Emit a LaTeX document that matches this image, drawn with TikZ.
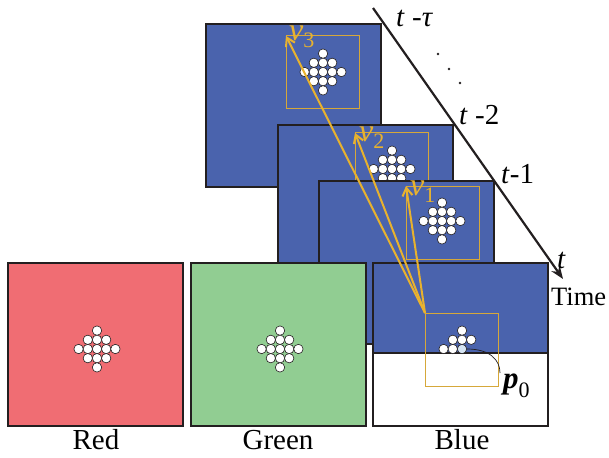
\documentclass[tikz,border=0pt]{standalone}
\usepackage{fontspec}
\setmainfont{Liberation Serif}
\newfontfamily\tnr{Liberation Serif}
\usetikzlibrary{arrows.meta}
\definecolor{fblue}{HTML}{4A63AD}
\definecolor{fred}{HTML}{F06D73}
\definecolor{fgreen}{HTML}{91CD92}
\definecolor{gold}{HTML}{E8B22E}
\definecolor{goldbox}{HTML}{D6A83A}
\definecolor{pblue}{HTML}{D5E4F3}
\definecolor{edge}{HTML}{231F20}
\newcommand\pixdiamond[2]{%
  \foreach \i/\j in {0/-2,-1/-1,0/-1,1/-1,-2/0,-1/0,0/0,1/0,2/0,-1/1,0/1,1/1,0/2}{%
    \draw[dot] ({#1+9.2*\i},{#2+9.2*\j}) circle[radius=4.7pt];}}
\newcommand\sub[1]{\raisebox{-7pt}{\fontsize{22}{22}\selectfont #1}}
\begin{document}
\begin{tikzpicture}[x=1pt,y=-1pt,
 frame/.style={draw=edge, line width=1.5pt, minimum width=175pt, minimum height=163pt, anchor=north west, inner sep=0, outer sep=0},
 wbox/.style={draw=goldbox, line width=1pt, minimum size=73pt, anchor=north west, inner sep=0, outer sep=0},
 mv/.style={draw=gold, line width=2pt, -{Straight Barb[length=8pt,width=10pt]}},
 lbl/.style={font=\tnr\fontsize{29}{29}\selectfont, inner sep=0, anchor=base},
 tl/.style={font=\tnr\fontsize{29}{29}\selectfont, inner sep=0, anchor=base west},
 vl/.style={font=\tnr\fontsize{32}{32}\selectfont, text=gold, inner sep=0, anchor=base west},
 dot/.style={fill=white, draw=edge, line width=0.6pt}]
\useasboundingbox (0,0) rectangle (609,457);
% frame t - tau
\node[frame, fill=fblue] (fT) at (206,24) {};
\node[wbox] (bT) at (286,36) {};
\pixdiamond{323}{72}
% frame t-2
\node[frame, fill=fblue] (f2) at (278,125) {};
\node[wbox] (b2) at (355,133) {};
\pixdiamond{392}{169}
% frame t-1
\node[frame, fill=fblue] (f1) at (319,181) {};
\node[wbox] (b1) at (406,186) {};
\pixdiamond{442}{221}
% Red
\node[frame, fill=fred] (fR) at (8,263) {};
\pixdiamond{97}{349}
% Green
\node[frame, fill=fgreen] (fG) at (191,263) {};
\pixdiamond{280}{349}
% Blue (current frame t)
\node[frame, fill=white] (fB) at (373,263) {};
\node[draw=edge, line width=1.2pt, fill=fblue, minimum width=175pt, minimum height=90pt, anchor=north west, inner sep=0, outer sep=0] (fBr) at (373,263) {};
\node[frame] (fBo) at (373,263) {};
\foreach \i/\j in {0/-2,-1/-1,0/-1,1/-1,-2/0,-1/0}{%
  \draw[dot] ({462+9.2*\i},{349+9.2*\j}) circle[radius=4.7pt];}
\node[circle, dot, fill=pblue, minimum size=9.4pt, inner sep=0] (p0) at (462,349) {};
\node[wbox] (b0) at (425,313) {};
% time axis
\coordinate (ts) at (373,8);
\coordinate (te) at (563,279);
\draw[edge, line width=2.2pt, -{Stealth[length=13pt,width=10pt]}] (ts) -- (te);
\fill[edge] (438,54) circle[radius=1.4pt] (449,69) circle[radius=1.4pt] (460,83) circle[radius=1.4pt];
% motion vectors
\draw[mv] (b0.north west) -- (b1.north west);
\draw[mv] (b0.north west) -- (b2.north west);
\draw[mv] (b0.north west) -- (bT.north west);
\node[vl] (v1) at (410,195) {\textit{v}\sub{1}};
\node[vl] (v2) at (359,142) {\textit{v}\sub{2}};
\node[vl] (v3) at (289,41) {\textit{v}\sub{3}};
% p0 label
\node[tl, font=\tnr\fontsize{31}{31}\selectfont] (lp) at (503,388) {\bfseries\itshape p\normalfont\raisebox{-9pt}{\fontsize{22}{22}\selectfont 0}};
\draw[edge, line width=0.7pt] (p0.east) .. controls (490,349) and (500,360) .. (500,373);
% time labels
\node[tl] (lT) at (396,27) {\textit{t} -\textit{τ}};
\node[tl] (l2) at (459,125) {\textit{t} -2};
\node[tl] (l1) at (501,183) {\textit{t}-1};
\node[tl] (l0) at (557,268) {\textit{t}};
\node[tl, font=\tnr\fontsize{26.5}{27}\selectfont] (lTime) at (551,305) {Time};
% channel labels
\node[lbl] (lR) at (96,449) {Red};
\node[lbl] (lG) at (278,449) {Green};
\node[lbl] (lB) at (462,449) {Blue};
\end{tikzpicture}
\end{document}
